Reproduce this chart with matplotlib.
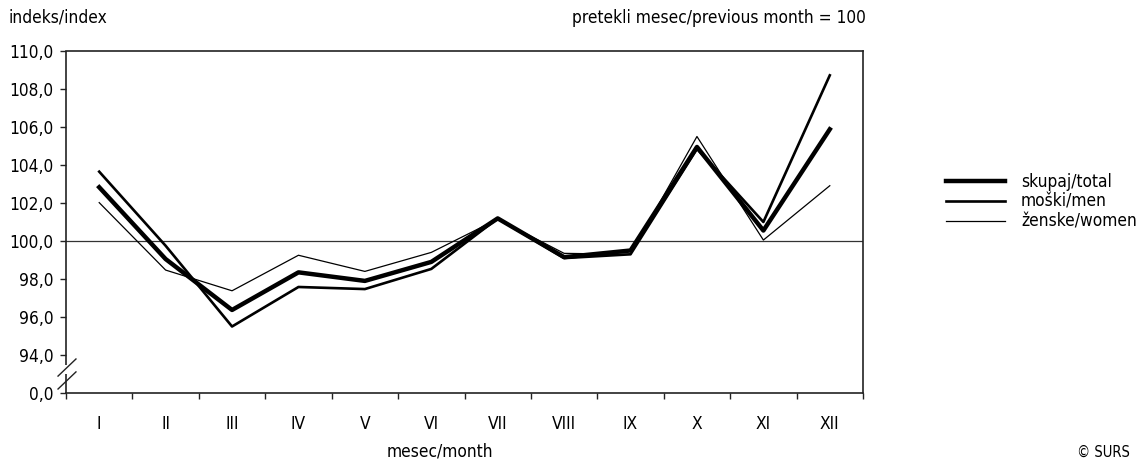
import matplotlib
matplotlib.use("Agg")
import matplotlib.pyplot as plt
import matplotlib.transforms as mtransforms
import matplotlib.font_manager as fm
import numpy as np

months = ["I", "II", "III", "IV", "V", "VI", "VII", "VIII", "IX", "X", "XI", "XII"]
total = [102.83, 99.05, 96.37, 98.35, 97.90, 98.90, 101.19, 99.15, 99.50, 104.95, 100.55, 105.88]
men = [103.65, 99.75, 95.50, 97.58, 97.47, 98.53, 101.19, 99.10, 99.30, 104.85, 101.00, 108.72]
women = [102.02, 98.47, 97.38, 99.25, 98.40, 99.40, 101.15, 99.35, 99.30, 105.50, 100.05, 102.91]
ytick_vals = [92, 94, 96, 98, 100, 102, 104, 106, 108, 110]
ytick_labels = ["0,0", "94,0", "96,0", "98,0", "100,0", "102,0", "104,0", "106,0", "108,0", "110,0"]
series_labels = ["skupaj/total", "moški/men", "ženske/women"]

# pick a narrow font if one is available
entries = fm.fontManager.ttflist
names = {f.name for f in entries}
stretch = "normal"
if "Liberation Sans Narrow" in names:
    fam = ["Liberation Sans Narrow", "DejaVu Sans"]
    FS = 15
elif any(f.name == "DejaVu Sans" and str(f.stretch) in ("condensed", "semi-condensed") for f in entries):
    fam = ["DejaVu Sans", "Liberation Sans"]
    stretch = "condensed"
    FS = 12.4
else:
    fam = ["Liberation Sans", "DejaVu Sans"]
    FS = 12.8
plt.rcParams['font.family'] = fam
plt.rcParams['font.stretch'] = stretch

W, H = 1141, 467
fig = plt.figure(figsize=(W / 100, H / 100), dpi=100)
ax = fig.add_axes([66 / W, 74 / H, (863 - 66) / W, (393 - 51) / H])

x = np.arange(1, len(months) + 1)
ax.axhline(100, color="#333333", lw=0.9, zorder=1)
l1, = ax.plot(x, total, color="black", lw=3.2, solid_joinstyle="round", zorder=4, label=series_labels[0])
l2, = ax.plot(x, men, color="black", lw=1.9, zorder=3, label=series_labels[1])
l3, = ax.plot(x, women, color="black", lw=0.9, zorder=2, label=series_labels[2])

ax.set_xlim(0.5, len(months) + 0.5)
ax.set_ylim(92, 110)
ax.set_yticks(ytick_vals)
ax.set_yticklabels(ytick_labels)
ax.set_xticks(np.arange(0.5, len(months) + 1, 1.0))
ax.set_xticklabels([])
ax.set_xticks(x, minor=True)
ax.set_xticklabels(months, minor=True)
ax.tick_params(axis="x", which="major", length=4, width=1, direction="out", color="#222222")
ax.tick_params(axis="x", which="minor", length=0, pad=16, labelsize=FS)
ax.tick_params(axis="y", length=4, width=1, direction="out", pad=5, labelsize=FS, color="#222222")

for s in ["top", "right", "bottom"]:
    ax.spines[s].set_color("#222222")
    ax.spines[s].set_linewidth(1.2)
ax.spines["left"].set_visible(False)

trans = mtransforms.blended_transform_factory(ax.transAxes, ax.transData)
ax.plot([0, 0], [110, 93.45], transform=trans, color="#222222", lw=1.2, clip_on=False, solid_capstyle="butt")
ax.plot([0, 0], [93.0, 92], transform=trans, color="#222222", lw=1.2, clip_on=False, solid_capstyle="butt")
ax.plot([-0.010, 0.0125], [92.89, 93.79], transform=trans, color="#222222", lw=1.0, clip_on=False)
ax.plot([-0.010, 0.0125], [92.21, 93.11], transform=trans, color="#222222", lw=1.0, clip_on=False)

fig.text(8 / W, 1 - 18 / H, "indeks/index", fontsize=FS, va="center", ha="left")
fig.text(866 / W, 1 - 18 / H, "pretekli mesec/previous month = 100", fontsize=FS, va="center", ha="right")
fig.text(440 / W, 1 - 452 / H, "mesec/month", fontsize=FS, va="center", ha="center")
fig.text(1130 / W, 1 - 452 / H, "© SURS", fontsize=FS * 0.85, va="center", ha="right")

fig.legend(handles=[l1, l2, l3], loc="center left", bbox_to_anchor=(946 / W, 1 - 202 / H),
           frameon=False, fontsize=FS, handlelength=3.4, handletextpad=0.95,
           labelspacing=0.1, borderpad=0, borderaxespad=0)

fig.savefig("out.png", dpi=100)
